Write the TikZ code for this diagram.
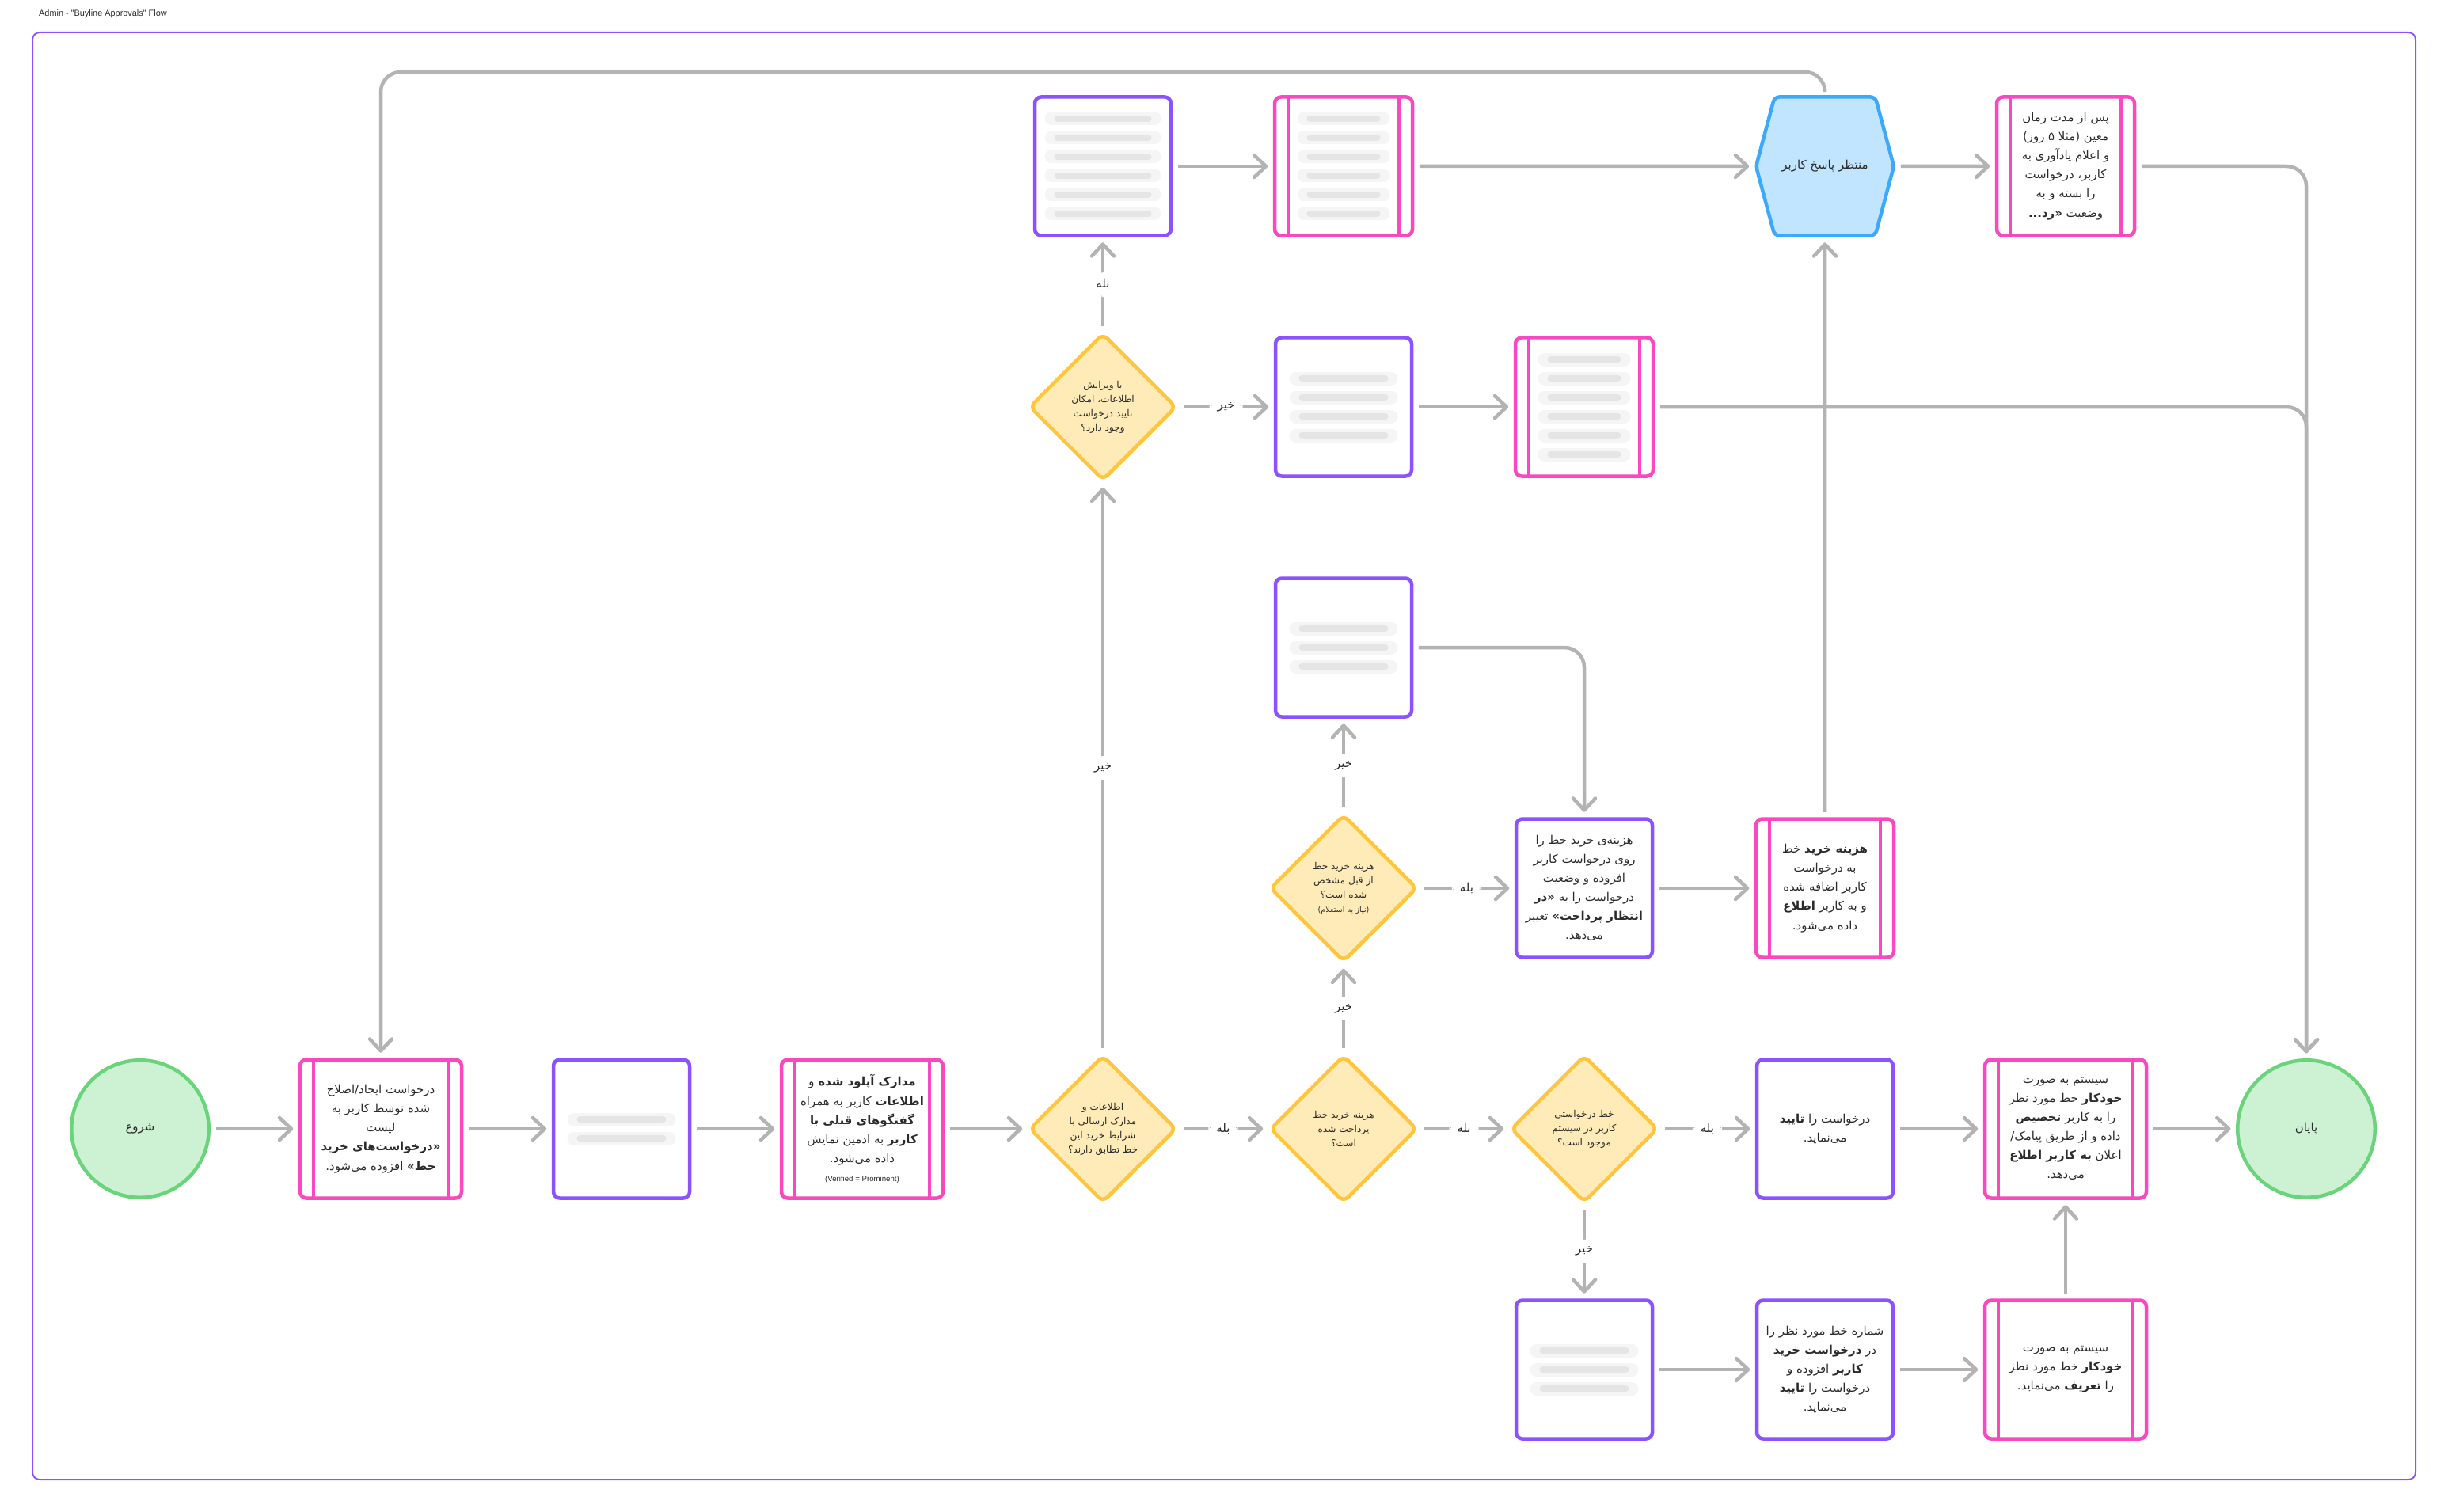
\documentclass[tikz,border=0pt]{standalone}
\usepackage{fontspec}
\newfontfamily\fa[Script=Arabic]{DejaVu Sans}
\newfontfamily\lat{Liberation Sans}
\TeXXeTstate=1
\usetikzlibrary{arrows.meta}
\usetikzlibrary{shapes.geometric, shapes.symbols}

\definecolor{purp}{HTML}{8B52FF}
\definecolor{pinkc}{HTML}{FA48C0}
\definecolor{yelb}{HTML}{FFC53D}
\definecolor{yelf}{HTML}{FFEBB8}
\definecolor{grnb}{HTML}{6AD47B}
\definecolor{grnf}{HTML}{CDF2D3}
\definecolor{blub}{HTML}{3DA9FC}
\definecolor{bluf}{HTML}{C2E5FF}
\definecolor{edge}{HTML}{B3B3B3}
\definecolor{ink}{HTML}{2B2B2B}

\newcommand\rl[1]{\beginR#1\endR}
% the two inner bars of a pink box
\newcommand\bars{%
  \draw[pinkc, line width=0.08cm] ([xshift=0.34cm]path picture bounding box.north west) -- ([xshift=0.34cm]path picture bounding box.south west);
  \draw[pinkc, line width=0.08cm] ([xshift=-0.34cm]path picture bounding box.north east) -- ([xshift=-0.34cm]path picture bounding box.south east);}
% blurred lines of hidden text
\newcommand\smudge[2]{%
  \foreach \k in {1,...,#1} {
    \draw[black!4, line width=0.34cm, line cap=round] ([shift={(-#2,{((#1+1)/2-\k)*0.48})}]path picture bounding box.center) -- ++(2*#2,0);
    \draw[black!10, line width=0.16cm, line cap=round] ([shift={(-#2+0.15,{((#1+1)/2-\k)*0.48})}]path picture bounding box.center) -- ++(2*#2-0.3,0);}}

\tikzset{
  txt/.style={font=\fa\fontsize{8.5}{13.7}\selectfont, text=ink, align=center, inner sep=0pt, line width=0.09cm},
  proc/.style={txt, rectangle, rounded corners=0.16cm, draw=purp, fill=white, minimum width=3.44cm, minimum height=3.5cm},
  sub/.style={proc, draw=pinkc, minimum width=3.48cm, path picture={\bars}},
  wide/.style={minimum width=4.08cm},
  dec/.style={txt, diamond, aspect=1, rounded corners=0.16cm, draw=yelb, fill=yelf, minimum width=3.72cm, minimum height=3.72cm, font=\fa\fontsize{6.9}{10.2}\selectfont},
  term/.style={txt, circle, draw=grnb, fill=grnf, minimum size=3.47cm},
  hexa/.style={txt, signal, signal to=west and east, signal pointer angle=150, rounded corners=0.12cm, draw=blub, fill=bluf, minimum width=3.48cm, minimum height=3.5cm},
  arr/.style={draw=edge, line width=0.09cm, rounded corners=0.5cm, shorten >=0.13cm, shorten <=0.13cm, -{Straight Barb[round, length=0.3cm, width=0.56cm]}},
  lbl/.style={font=\fa\fontsize{8.5}{10}\selectfont, text=ink, fill=white, inner xsep=0.2cm, inner ysep=0.18cm},
}

\begin{document}
\begin{tikzpicture}
  \useasboundingbox (0,0) rectangle (61.84,-38.2);
  \draw[purp, line width=0.04cm, rounded corners=0.18cm] (0.82,-0.82) rectangle (61.02,-37.38);
  \node[anchor=west, font=\lat\fontsize{6.2}{7}\selectfont, text=ink] (title) at (0.86,-0.36) {Admin - "Buyline Approvals" Flow};

  % main row
  \node[term] (st) at (3.54,-28.52) {\rl{شروع}};
  \node[sub, wide] (req) at (9.62,-28.52) {\rl{درخواست ایجاد/اصلاح}\\\rl{شده توسط کاربر به}\\\rl{لیست}\\\rl{\textbf{«درخواست‌های خرید}}\\\rl{\textbf{خط»} افزوده می‌شود.}};
  \node[proc, path picture={\smudge{2}{1.2}}] (scan) at (15.70,-28.52) {};
  \node[sub, wide] (docs) at (21.78,-28.52) {\rl{\textbf{مدارک آپلود شده} و}\\\rl{\textbf{اطلاعات} کاربر به همراه}\\\rl{\textbf{گفتگوهای قبلی با}}\\\rl{\textbf{کاربر} به ادمین نمایش}\\\rl{داده می‌شود.}\\{\lat\fontsize{5.5}{8}\selectfont (Verified = Prominent)}};
  \node[dec] (chk) at (27.86,-28.52) {\rl{اطلاعات و}\\\rl{مدارک ارسالی با}\\\rl{شرایط خرید این}\\\rl{خط تطابق دارند؟}};
  \node[dec] (paid) at (33.94,-28.52) {\rl{هزینه خرید خط}\\\rl{پرداخت شده}\\\rl{است؟}};
  \node[dec] (exist) at (40.02,-28.52) {\rl{خط درخواستی}\\\rl{کاربر در سیستم}\\\rl{موجود است؟}};
  \node[proc] (ok) at (46.10,-28.52) {\rl{درخواست را \textbf{تایید}}\\\rl{می‌نماید.}};
  \node[sub, wide] (assign) at (52.18,-28.52) {\rl{سیستم به صورت}\\\rl{\textbf{خودکار} خط مورد نظر}\\\rl{را به کاربر \textbf{تخصیص}}\\\rl{داده و از طریق پیامک/}\\\rl{اعلان \textbf{به کاربر اطلاع}}\\\rl{می‌دهد.}};
  \node[term] (fin) at (58.26,-28.52) {\rl{پایان}};

  % bottom row
  \node[proc, path picture={\smudge{3}{1.2}}] (look) at (40.02,-34.60) {};
  \node[proc] (addnum) at (46.10,-34.60) {\rl{شماره خط مورد نظر را}\\\rl{در \textbf{درخواست خرید}}\\\rl{\textbf{کاربر} افزوده و}\\\rl{درخواست را \textbf{تایید}}\\\rl{می‌نماید.}};
  \node[sub, wide] (define) at (52.18,-34.60) {\rl{سیستم به صورت}\\\rl{\textbf{خودکار} خط مورد نظر}\\\rl{را \textbf{تعریف} می‌نماید.}};

  % cost rows
  \node[dec] (cost) at (33.94,-22.44) {\rl{هزینه خرید خط}\\\rl{از قبل مشخص}\\\rl{شده است؟}\\{\fontsize{5.5}{8}\selectfont\rl{(نیاز به استعلام)}}};
  \node[proc] (setcost) at (40.02,-22.44) {\rl{هزینه‌ی خرید خط را}\\\rl{روی درخواست کاربر}\\\rl{افزوده و وضعیت}\\\rl{درخواست را به \textbf{«در}}\\\rl{\textbf{انتظار پرداخت»} تغییر}\\\rl{می‌دهد.}};
  \node[sub] (notify) at (46.10,-22.44) {\rl{\textbf{هزینه خرید} خط}\\\rl{به درخواست}\\\rl{کاربر اضافه شده}\\\rl{و به کاربر \textbf{اطلاع}}\\\rl{داده می‌شود.}};
  \node[proc, path picture={\smudge{3}{1.2}}] (ask) at (33.94,-16.36) {};

  % edit rows
  \node[dec] (edit) at (27.86,-10.28) {\rl{با ویرایش}\\\rl{اطلاعات، امکان}\\\rl{تایید درخواست}\\\rl{وجود دارد؟}};
  \node[proc, path picture={\smudge{4}{1.2}}] (fixA) at (33.94,-10.28) {};
  \node[sub, path picture={\smudge{6}{1.0}\bars}] (fixB) at (40.02,-10.28) {};
  \node[proc, path picture={\smudge{6}{1.3}}] (editA) at (27.86,-4.20) {};
  \node[sub, path picture={\smudge{6}{1.0}\bars}] (editB) at (33.94,-4.20) {};
  \node[hexa] (wait) at (46.10,-4.20) {\rl{منتظر پاسخ کاربر}};
  \node[sub] (reject) at (52.18,-4.20) {\rl{پس از مدت زمان}\\\rl{معین (مثلا ۵ روز)}\\\rl{و اعلام یادآوری به}\\\rl{کاربر، درخواست}\\\rl{را بسته و به}\\\rl{وضعیت \textbf{«رد...}}};
  \coordinate (back) at (9.62,-1.82);

  \draw[arr] (st) -- (req);
  \draw[arr] (req) -- (scan);
  \draw[arr] (scan) -- (docs);
  \draw[arr] (docs) -- (chk);
  \draw[arr] (chk) -- node[lbl] {\rl{بله}} (paid);
  \draw[arr] (paid) -- node[lbl] {\rl{بله}} (exist);
  \draw[arr] (exist) -- node[lbl] {\rl{بله}} (ok);
  \draw[arr] (ok) -- (assign);
  \draw[arr] (assign) -- (fin);
  \draw[arr] (exist) -- node[lbl] {\rl{خیر}} (look);
  \draw[arr] (look) -- (addnum);
  \draw[arr] (addnum) -- (define);
  \draw[arr] (define) -- (assign);
  \draw[arr] (paid) -- node[lbl] {\rl{خیر}} (cost);
  \draw[arr] (cost) -- node[lbl] {\rl{بله}} (setcost);
  \draw[arr] (setcost) -- (notify);
  \draw[arr] (notify) -- (wait);
  \draw[arr] (cost) -- node[lbl] {\rl{خیر}} (ask);
  \draw[arr] (ask) -| (setcost);
  \draw[arr] (chk) -- node[lbl] {\rl{خیر}} (edit);
  \draw[arr] (edit) -- node[lbl] {\rl{خیر}} (fixA);
  \draw[arr] (fixA) -- (fixB);
  \draw[arr] (fixB) -| (fin);
  \draw[arr] (edit) -- node[lbl] {\rl{بله}} (editA);
  \draw[arr] (editA) -- (editB);
  \draw[arr] (editB) -- (wait);
  \draw[arr] (wait) -- (reject);
  \draw[arr] (reject) -| (fin);
  \draw[arr] (wait) |- (back) -- (req);
\end{tikzpicture}
\end{document}
